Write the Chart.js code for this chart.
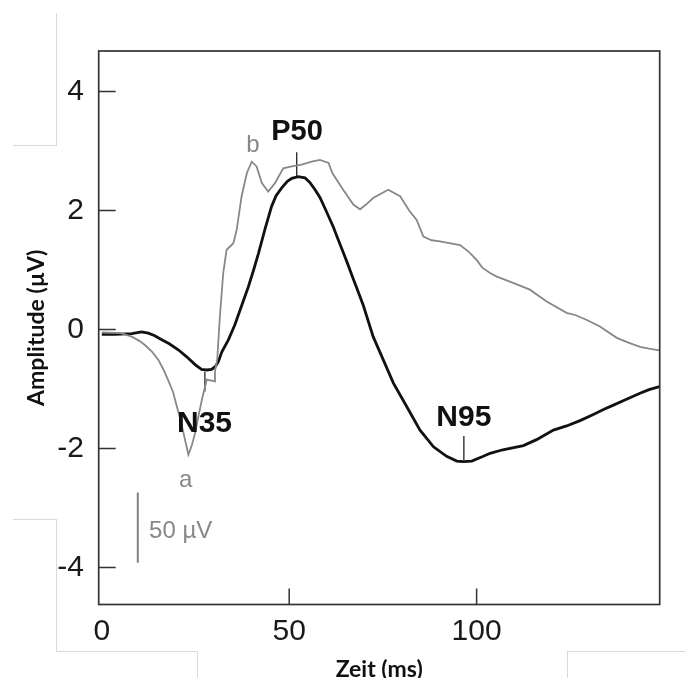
<!DOCTYPE html>
<html><head><meta charset="utf-8">
<script src="https://cdn.jsdelivr.net/npm/chart.js@4.4.1/dist/chart.umd.min.js"></script>
<style>
html,body{margin:0;padding:0;background:#fff;}
#wrap{position:relative;width:685px;height:678px;overflow:hidden;}
#c{position:absolute;left:0;top:0;}
.fr{position:absolute;border:0 solid #dadada;}
</style></head><body>
<div id="wrap">
<div class="fr" style="left:56px;top:13px;height:133px;border-left-width:1px"></div>
<div class="fr" style="left:13px;top:145px;width:44px;border-top-width:1px"></div>
<div class="fr" style="left:56px;top:520px;height:131px;border-left-width:1px"></div>
<div class="fr" style="left:13px;top:519px;width:44px;border-top-width:1px"></div>
<div class="fr" style="left:56px;top:651px;width:142px;border-top-width:1px"></div>
<div class="fr" style="left:197px;top:651px;height:27px;border-left-width:1px"></div>
<div class="fr" style="left:567px;top:651px;width:118px;border-top-width:1px"></div>
<div class="fr" style="left:567px;top:651px;height:27px;border-left-width:1px"></div>
<canvas id="c" width="685" height="678"></canvas>
</div>
<script>
// ---- data ----
const timeBlack = [0,3.5,8,10.6,12.4,14,16,18,20.4,22.5,24.9,26.6,28,29.3,30.3,31.1,32,33.8,35.5,37.3,39.1,40.5,41.8,43.5,45.3,46.5,48,49.5,50.7,52.4,54.2,55.5,56.9,58.2,59.6,61.8,63,64.4,65.5,67.1,68.5,69.8,72.4,75.1,77.8,81.3,84.9,88.5,92,94.7,96.5,98.7,101.8,103.6,107,112.5,116,120.5,124,127.6,131,134,136.5,140,143.6,146,148.8];
const ampBlack  = [-0.08,-0.08,-0.07,-0.04,-0.06,-0.1,-0.17,-0.24,-0.34,-0.45,-0.59,-0.67,-0.68,-0.67,-0.62,-0.54,-0.38,-0.17,0.08,0.4,0.72,1.0,1.28,1.68,2.07,2.25,2.38,2.49,2.54,2.57,2.55,2.47,2.35,2.22,2.03,1.72,1.52,1.3,1.12,0.85,0.62,0.4,-0.12,-0.51,-0.9,-1.29,-1.69,-1.97,-2.13,-2.21,-2.22,-2.21,-2.13,-2.08,-2.02,-1.95,-1.85,-1.69,-1.62,-1.53,-1.43,-1.34,-1.27,-1.17,-1.07,-1.01,-0.96];

const timeGray = [0,5,8,10,11.5,13.5,15.1,16.5,17.7,19,20,21,21.8,23.1,24,24.9,25.8,26.7,28,30.2,30.2,30.8,31.5,32.4,33.3,35.1,36,37.3,38.7,40,41.3,42.7,44.4,46.2,48.4,50.7,53.3,56,58.2,60.5,61.5,64.4,67.1,68.9,70.5,72.4,76.4,79.6,82,84,85.8,88,90.2,95.6,98,100,101.5,103.6,105.4,109.9,114.2,118.7,124,126.5,129.4,132.9,137.4,140.5,143.6,146,148.8];
const ampGray  = [-0.05,-0.06,-0.12,-0.19,-0.26,-0.38,-0.51,-0.68,-0.85,-1.05,-1.29,-1.52,-1.74,-2.1,-1.95,-1.74,-1.45,-1.18,-0.84,-0.87,-0.7,-0.5,0.22,0.95,1.34,1.45,1.68,2.24,2.63,2.82,2.74,2.46,2.32,2.46,2.71,2.74,2.77,2.82,2.85,2.8,2.63,2.35,2.1,2.02,2.1,2.21,2.35,2.24,2.0,1.84,1.56,1.5,1.48,1.42,1.3,1.17,1.04,0.95,0.89,0.78,0.67,0.47,0.28,0.24,0.16,0.05,-0.14,-0.22,-0.29,-0.32,-0.35];

const xTickValues = [0, 50, 100];
const yTickValues = [-4, -2, 0, 2, 4];

const peakNames = ['N35', 'P50', 'N95'];
const peakTimes = [27.5, 52.0, 96.6];
const peakMarkTop = [-0.71, 2.98, -1.79];
const peakMarkBottom = [-1.04, 2.56, -2.19];
const peakLabelX = [27.4, 52.1, 96.6];
const peakLabelY = [-1.72, 3.19, -1.62];

const subNames = ['a', 'b'];
const subX = [22.4, 40.3];
const subY = [-2.645, 2.99];

const scaleBarX = 9.6;
const scaleBarY = [-2.74, -3.92];
const scaleBarText = '50 µV';
const scaleBarTextX = 12.6;
const scaleBarTextY = -3.51;

// ---- build datasets ----
const pts = (xs, ys) => xs.map((x, i) => ({x: x, y: ys[i]}));
const datasets = [
  {data: pts(timeGray, ampGray), borderColor: '#888888', borderWidth: 1.8},
  {data: pts(timeBlack, ampBlack), borderColor: '#111111', borderWidth: 2.8}
];
peakTimes.forEach((t, i) => datasets.push({
  data: [{x: t, y: peakMarkTop[i]}, {x: t, y: peakMarkBottom[i]}],
  borderColor: '#222222', borderWidth: 1.3
}));
datasets.push({data: [{x: scaleBarX, y: scaleBarY[0]}, {x: scaleBarX, y: scaleBarY[1]}],
  borderColor: '#808080', borderWidth: 2});
datasets.forEach(d => { d.pointRadius = 0; d.tension = 0; d.fill = false; });

const decor = {
  id: 'decor',
  afterDatasetsDraw(chart) {
    const {ctx, chartArea: a, scales: {x, y}} = chart;
    ctx.save();
    ctx.strokeStyle = '#333';
    ctx.lineWidth = 1.7;
    ctx.strokeRect(a.left, a.top, a.right - a.left, a.bottom - a.top);
    ctx.lineWidth = 1.5;
    ctx.beginPath();
    yTickValues.forEach(v => { const p = y.getPixelForValue(v); ctx.moveTo(a.left, p); ctx.lineTo(a.left + 17, p); });
    xTickValues.forEach(v => { if (v === 0) return; const p = x.getPixelForValue(v); ctx.moveTo(p, a.bottom); ctx.lineTo(p, a.bottom - 16); });
    ctx.stroke();
    ctx.textBaseline = 'alphabetic';
    ctx.textAlign = 'center';
    ctx.fillStyle = '#111';
    peakNames.forEach((n, i) => {
      ctx.font = (n === 'P50' ? 'bold 29px' : 'bold 30px') + ' "Liberation Sans", Arial, sans-serif';
      ctx.fillText(n, x.getPixelForValue(peakLabelX[i]), y.getPixelForValue(peakLabelY[i]));
    });
    ctx.fillStyle = '#888';
    ctx.font = '24px "Liberation Sans", Arial, sans-serif';
    subNames.forEach((n, i) => ctx.fillText(n, x.getPixelForValue(subX[i]), y.getPixelForValue(subY[i])));
    ctx.textAlign = 'left';
    ctx.fillText(scaleBarText, x.getPixelForValue(scaleBarTextX), y.getPixelForValue(scaleBarTextY));
    ctx.restore();
  }
};

new Chart(document.getElementById('c'), {
  type: 'line',
  data: {datasets: datasets},
  plugins: [decor],
  options: {
    responsive: false,
    animation: false,
    layout: {padding: {top: 51, right: 25.3, left: 0, bottom: 0}},
    plugins: {legend: {display: false}, tooltip: {enabled: false}},
    scales: {
      x: {
        type: 'linear', min: -0.83, max: 148.85,
        afterBuildTicks: s => { s.ticks = xTickValues.map(v => ({value: v})); },
        afterFit: s => { s.height = 73.5; },
        grid: {display: false, drawTicks: false},
        border: {display: false},
        ticks: {padding: 9, color: '#1a1a1a', font: {family: '"Liberation Sans", Arial, sans-serif', size: 30}},
        title: {display: true, text: 'Zeit (ms)', color: '#111', padding: {top: 0, bottom: 0},
          font: {family: 'Lato, "Open Sans", sans-serif', size: 23, weight: 'bold', lineHeight: 0.7}}
      },
      y: {
        type: 'linear', min: -4.62, max: 4.68,
        afterBuildTicks: s => { s.ticks = yTickValues.map(v => ({value: v})); },
        afterFit: s => { s.width = 98.7; },
        grid: {display: false, drawTicks: false},
        border: {display: false},
        ticks: {padding: 14.7, color: '#1a1a1a', font: {family: '"Liberation Sans", Arial, sans-serif', size: 30}},
        title: {display: true, text: 'Amplitude (µV)', color: '#111', padding: {top: 25.5, bottom: 0},
          font: {family: 'Lato, "Open Sans", sans-serif', size: 23, weight: 'bold', lineHeight: 1}}
      }
    }
  }
});
</script>
</body></html>
